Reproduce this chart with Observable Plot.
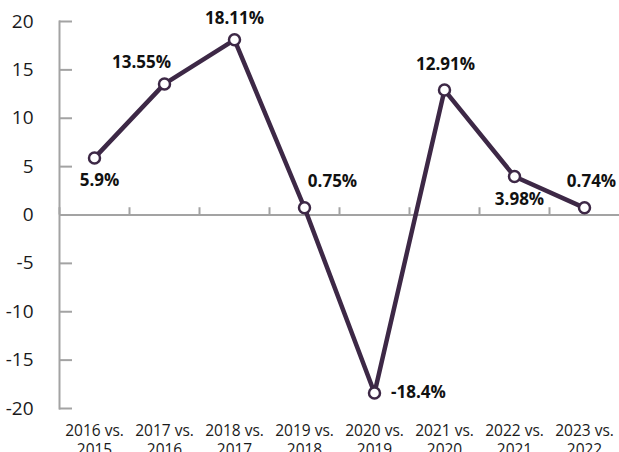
<!DOCTYPE html>
<html>
<head>
<meta charset="utf-8">
<script src="https://cdn.jsdelivr.net/npm/d3@7"></script>
<script src="https://cdn.jsdelivr.net/npm/@observablehq/plot@0.6"></script>
<style>
  html, body { margin: 0; padding: 0; background: #fff; }
  #chart svg { display: block; }
</style>
</head>
<body>
<div id="chart"></div>
<script>
// ---- data ----
const periods = ["2016 vs.\n2015", "2017 vs.\n2016", "2018 vs.\n2017", "2019 vs.\n2018",
                 "2020 vs.\n2019", "2021 vs.\n2020", "2022 vs.\n2021", "2023 vs.\n2022"];
const changes = [5.9, 13.55, 18.11, 0.75, -18.4, 12.91, 3.98, 0.74];
const valueLabels = ["5.9%", "13.55%", "18.11%", "0.75%", "-18.4%", "12.91%", "3.98%", "0.74%"];
const yTicks = [-20, -15, -10, -5, 0, 5, 10, 15, 20];
const labelPlacement = ["below", "above-left", "top", "above-right", "right", "above", "below", "above-right-near"];

// ---- layout / style ----
const W = 619, H = 452;
const mL = 59, mR = 0, mT = 21, mB = 44;
const band = (W - mL - mR) / periods.length;
const lineColor = "#3d2846";
const axisColor = "#a3a3a3";
const font = "'Open Sans', sans-serif";

const offs = {
  "below": [5, 23], "above-left": [-23, -21], "top": [0, -21], "above": [1, -26],
  "above-right": [28, -26], "above-right-near": [7, -26], "right": [44, 0]
};
const rows = periods.map((p, i) => {
  const [dx, dy] = offs[labelPlacement[i]];
  return {p, v: changes[i], label: valueLabels[i], dx, dy};
});

const chart = Plot.plot({
  width: W, height: H,
  marginLeft: mL, marginRight: mR, marginTop: mT, marginBottom: mB,
  style: {fontFamily: font, background: "#fff", overflow: "visible"},
  x: {type: "band", domain: periods, padding: 0, label: null},
  y: {domain: [-20, 20], label: null},
  marks: [
    Plot.frame({anchor: "left", stroke: axisColor, strokeWidth: 2}),
    Plot.axisY(yTicks, {tickSize: -13, stroke: axisColor, strokeWidth: 2, tickPadding: 0, text: null, label: null}),
    Plot.axisY(yTicks, {tickSize: 0, tickPadding: 26, fontSize: 19, fill: "#1a1a1a", label: null,
      tickFormat: d => String(d)}),
    Plot.axisX({tickSize: 0, tickPadding: 14, fontSize: 15.5, lineHeight: 1.22, fill: "#1a1a1a", label: null}),
    Plot.ruleY([0], {stroke: axisColor, strokeWidth: 2}),
    Plot.ruleX(periods, {x: d => d, y1: 0, y2: 0.75, dx: -band / 2, stroke: axisColor, strokeWidth: 2}),
    Plot.line(rows, {x: "p", y: "v", stroke: lineColor, strokeWidth: 4.5}),
    Plot.dot(rows, {x: "p", y: "v", r: 5.5, fill: "#fff", stroke: lineColor, strokeWidth: 2.5}),
    ...rows.map(r => Plot.text([r], {x: "p", y: "v", text: "label", dx: r.dx, dy: r.dy,
      fontSize: 17, fontWeight: 700, fill: "#111"}))
  ]
});
document.getElementById("chart").appendChild(chart);
</script>
</body>
</html>
